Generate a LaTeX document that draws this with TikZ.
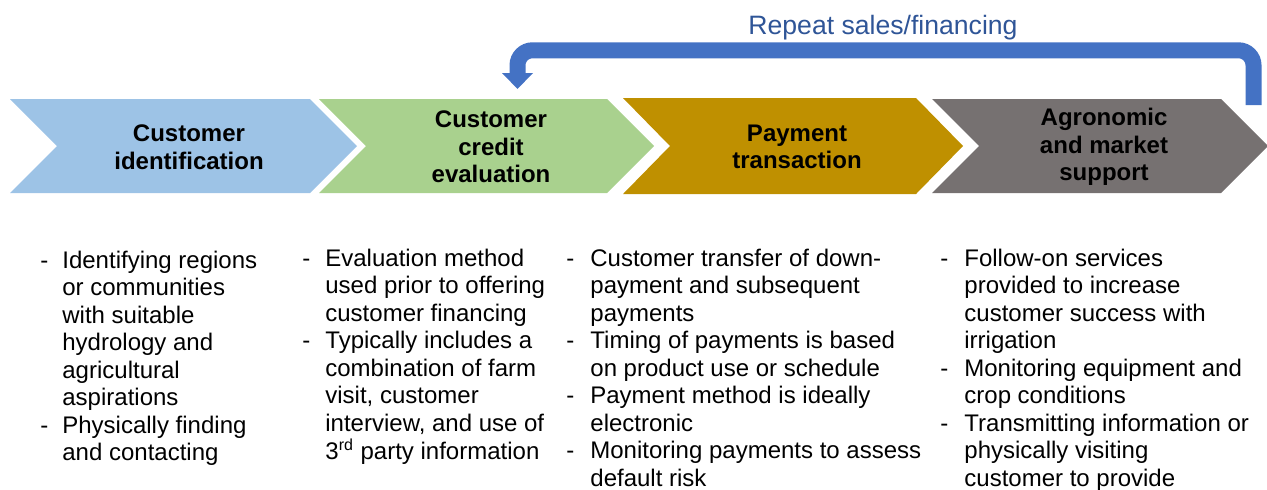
\documentclass[tikz,border=0pt]{standalone}
\usepackage{fontspec}
\setmainfont{Liberation Sans}
\usetikzlibrary{arrows.meta}
\definecolor{identblue}{HTML}{9DC3E6}
\definecolor{creditgreen}{HTML}{A9D18E}
\definecolor{paygold}{HTML}{BF9000}
\definecolor{supportgray}{HTML}{767171}
\definecolor{loopblue}{HTML}{4472C4}
\definecolor{titleblue}{HTML}{2F5597}
\tikzset{
  stagetext/.style={font=\fontsize{12}{13.75}\selectfont\bfseries, align=center, inner sep=0pt},
  bullettext/.style={font=\fontsize{12}{13.75}\selectfont, anchor=base west, inner sep=0pt},
}
\begin{document}
\begin{tikzpicture}[x=0.5pt,y=-0.5pt]
  \useasboundingbox (0,0) rectangle (1267,489);
  % chevrons
  \fill[identblue] (10,99) -- (310,99) -- (357,146) -- (310,193) -- (10,193) -- (57,146) -- cycle;
  \fill[creditgreen] (319,99) -- (607,99) -- (654,146) -- (607,193) -- (319,193) -- (366,146) -- cycle;
  \fill[paygold] (623,98) -- (916,98) -- (963,146) -- (916,194) -- (623,194) -- (670,146) -- cycle;
  \fill[supportgray] (932,99) -- (1221,99) -- (1268,146) -- (1221,193) -- (932,193) -- (979,146) -- cycle;
  \node[stagetext] (ident) at (189,147) {Customer\\identification};
  \node[stagetext] (credit) at (491,147) {Customer\\credit\\evaluation};
  \node[stagetext] (pay) at (797,147) {Payment\\transaction};
  \node[stagetext] (support) at (1104,147) {Agronomic\\and market\\support};
  % repeat loop
  \coordinate (loopstart) at (1253.5,105);
  \coordinate (loopend) at (517.5,89);
  \draw[loopblue, line width=8pt, rounded corners=7.5pt, -{Triangle[width=15pt,length=8pt]}]
    (loopstart) -- (1253.5,50.3) -- (517.5,50.3) -- (loopend);
  \node[font=\fontsize{13.3}{16}\selectfont, text=titleblue, anchor=base] (looplabel) at (883,34) {Repeat sales/financing};
  % descriptions
  \node[bullettext] (identlist) at (40,268) {\begin{tabular}[t]{@{}p{11pt}@{}l@{}}
    - & Identifying regions\\
      & or communities\\
      & with suitable\\
      & hydrology and\\
      & agricultural\\
      & aspirations\\
    - & Physically finding\\
      & and contacting
  \end{tabular}};
  \node[bullettext] (creditlist) at (302,266) {\begin{tabular}[t]{@{}p{11.5pt}@{}l@{}}
    - & Evaluation method\\
      & used prior to offering\\
      & customer financing\\
    - & Typically includes a\\
      & combination of farm\\
      & visit, customer\\
      & interview, and use of\\
      & 3\textsuperscript{rd} party information
  \end{tabular}};
  \node[bullettext] (paylist) at (566,266) {\begin{tabular}[t]{@{}p{12pt}@{}l@{}}
    - & Customer transfer of down-\\
      & payment and subsequent\\
      & payments\\
    - & Timing of payments is based\\
      & on product use or schedule\\
    - & Payment method is ideally\\
      & electronic\\
    - & Monitoring payments to assess\\
      & default risk
  \end{tabular}};
  \node[bullettext] (supportlist) at (940,266) {\begin{tabular}[t]{@{}p{12pt}@{}l@{}}
    - & Follow-on services\\
      & provided to increase\\
      & customer success with\\
      & irrigation\\
    - & Monitoring equipment and\\
      & crop conditions\\
    - & Transmitting information or\\
      & physically visiting\\
      & customer to provide
  \end{tabular}};
\end{tikzpicture}
\end{document}
